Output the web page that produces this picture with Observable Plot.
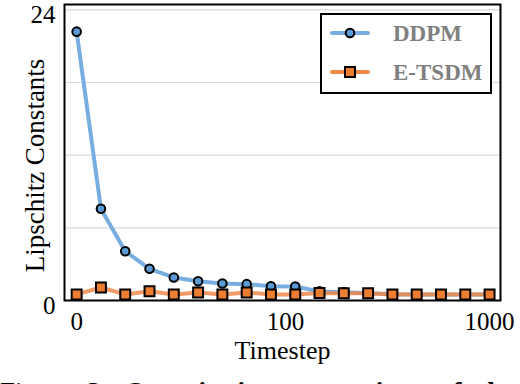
<!DOCTYPE html>
<html>
<head>
<meta charset="utf-8">
<script src="https://cdn.jsdelivr.net/npm/d3@7"></script>
<script src="https://cdn.jsdelivr.net/npm/@observablehq/plot@0.6"></script>
<style>
  body { margin: 0; background: #fff; overflow: hidden; }
  #wrap { position: relative; width: 520px; height: 384px; overflow: hidden; font-family: "Liberation Serif", "Times New Roman", serif; }
  #wrap > svg { display: block; }
  #legend { position: absolute; left: 320px; top: 13px; }
  #caption { font-size: 27px; white-space: nowrap; margin-top: 7px; line-height: 1; color: #000; word-spacing: 10px; }
</style>
</head>
<body>
<div id="wrap"></div>
<script>
// ---- data ----
const steps = [0, 1, 2, 3, 4, 5, 6, 7, 8, 9, 10, 11, 12, 13, 14, 15, 16, 17];
const ddpm  = [22.2, 7.57, 4.07, 2.62, 1.9, 1.59, 1.4, 1.35, 1.18, 1.16, 0.75, 0.68, 0.6, 0.52, 0.5, 0.5, 0.5, 0.5];
const etsdm = [0.5, 1.07, 0.5, 0.77, 0.5, 0.66, 0.5, 0.66, 0.5, 0.5, 0.62, 0.6, 0.6, 0.5, 0.5, 0.5, 0.5, 0.5];
const seriesNames = ["DDPM", "E-TSDM"];
const xTickPos = [0, 8.6, 17];
const xTickLabels = ["0", "100", "1000"];
const yTicks = [0, 24];
const yGrid = [6, 12, 18, 24];

const colors = { line: ["#78ade0", "#f08a4b"], fill: ["#5b9bd5", "#ed7d31"] };

const rowsA = steps.map((s, i) => ({ s, v: ddpm[i] }));
const rowsB = steps.map((s, i) => ({ s, v: etsdm[i] }));

const serif = "Liberation Serif, Times New Roman, serif";

const chart = Plot.plot({
  width: 520,
  height: 372,
  marginLeft: 64,
  marginRight: 20,
  marginTop: 4,
  marginBottom: 72,
  style: { fontFamily: serif, background: "#fff", color: "#000" },
  x: { type: "linear", domain: [-0.5, 17.45] },
  y: { domain: [0, 24.44] },
  marks: [
    Plot.gridY(yGrid, { stroke: "#d9d9d9", strokeOpacity: 1, strokeWidth: 1.2 }),
    Plot.axisY(yTicks, { tickSize: 0, tickPadding: 9, fontSize: 25, label: null, dy: 5 }),
    Plot.axisX(xTickPos, { tickSize: 0, tickPadding: 12, fontSize: 25, label: null,
      tickFormat: (d) => xTickLabels[xTickPos.indexOf(d)] }),
    Plot.text(["Timestep"], { frameAnchor: "bottom", dy: 58, fontSize: 26 }),
    Plot.text(["Lipschitz Constants"], { frameAnchor: "left", textAnchor: "middle", rotate: -90, dx: -29, dy: 13, fontSize: 27 }),
    Plot.line(rowsA, { x: "s", y: "v", stroke: colors.line[0], strokeWidth: 4 }),
    Plot.line(rowsB, { x: "s", y: "v", stroke: colors.line[1], strokeWidth: 4, strokeOpacity: 0.85 }),
    Plot.dot(rowsA, { x: "s", y: "v", r: 4.3, fill: colors.fill[0], stroke: "#000", strokeWidth: 2 }),
    Plot.dot(rowsB, { x: "s", y: "v", r: 5.6, symbol: "square", fill: colors.fill[1], stroke: "#000", strokeWidth: 2 }),
    Plot.frame({ stroke: "#000", strokeWidth: 2 })
  ]
});

const wrap = document.getElementById("wrap");
wrap.appendChild(chart);

// legend
const leg = document.createElementNS("http://www.w3.org/2000/svg", "svg");
leg.setAttribute("id", "legend");
leg.setAttribute("width", 173);
leg.setAttribute("height", 82);
let html = `<rect x="1" y="1" width="170" height="79" fill="#fff" stroke="#000" stroke-width="2"/>`;
seriesNames.forEach((name, i) => {
  const cy = 20 + i * 39;
  html += `<line x1="12" x2="48" y1="${cy}" y2="${cy}" stroke="${colors.line[i]}" stroke-width="4" stroke-linecap="round"/>`;
  if (i === 0) html += `<circle cx="30" cy="${cy}" r="4.3" fill="${colors.fill[0]}" stroke="#000" stroke-width="2"/>`;
  else html += `<rect x="25" y="${cy - 5}" width="10" height="10" fill="${colors.fill[1]}" stroke="#000" stroke-width="2"/>`;
  html += `<text x="73" y="${cy + 8}" font-family="${serif}" font-weight="bold" font-size="23" fill="#7f7f7f">${name}</text>`;
});
leg.innerHTML = html;
wrap.appendChild(leg);

// caption
const cap = document.createElement("div");
cap.id = "caption";
cap.innerHTML = "Figure 3: <b>Quantitative comparison of the</b>";
wrap.appendChild(cap);
</script>
</body>
</html>
